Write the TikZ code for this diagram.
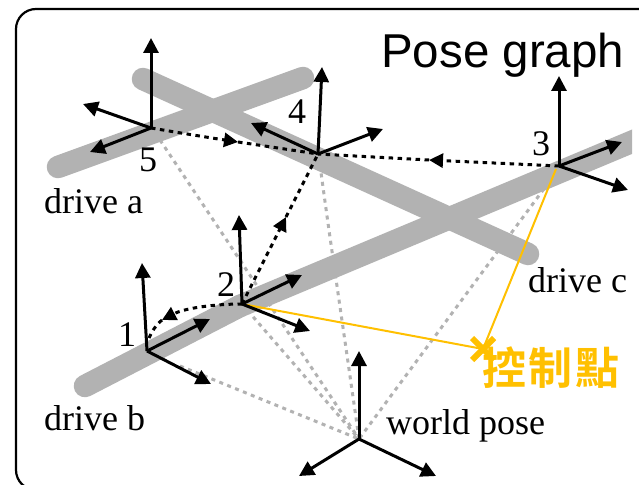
\documentclass[tikz,border=0pt]{standalone}
\usepackage{fontspec}
\setmainfont{Liberation Serif}
\newfontfamily\titlefont{Liberation Sans}
\newfontfamily\cjkfont{Noto Sans CJK TC}[BoldFont={* Bold}]
\usetikzlibrary{arrows.meta}
\definecolor{roadgray}{HTML}{B2B2B2}
\definecolor{ctrlyellow}{HTML}{FFC000}
\tikzset{
  road/.style={draw=roadgray,line width=22.5pt,line cap=round},
  axis/.style={draw=black,line width=3pt,-{Triangle[length=15pt,width=15pt]}},
  edgeline/.style={draw=black,line width=3pt,dash pattern=on 4.5pt off 4.5pt},
  edgetip/.style={edgeline,-{Triangle[length=14pt,width=14pt]}},
  prior/.style={draw=roadgray,line width=3pt,dash pattern=on 4pt off 4.5pt},
  ctrl/.style={draw=ctrlyellow,line width=2pt},
  lbl/.style={anchor=base west,inner sep=0pt,font=\fontsize{36}{40}\selectfont},
  num/.style={anchor=base,inner sep=0pt,font=\fontsize{36}{40}\selectfont},
}
\begin{document}
\begin{tikzpicture}[x=1pt,y=-1pt]
\useasboundingbox (0,0) rectangle (639,484);
\fill[white] (0,0) rectangle (639,484);
\clip (0,0) rectangle (639,484);
\draw[black,line width=2.2pt,rounded corners=20pt] (660,9) -- (16,9) -- (16,490) -- (660,490);
% pose origins
\coordinate (p1) at (147,351);
\coordinate (p2) at (242,304);
\coordinate (p3) at (559,166);
\coordinate (p4) at (318,154);
\coordinate (p5) at (151,128);
\coordinate (w) at (359,439);
% roads
\coordinate (ra1) at (58,167); \coordinate (ra2) at (303,78);
\coordinate (rc1) at (143,79); \coordinate (rc2) at (528,254);
\coordinate (rb1) at (85,386); \coordinate (rb2) at (240,306); \coordinate (rb3) at (660,130);
\draw[road] (ra1) -- (ra2);
\draw[road] (rc1) -- (rc2);
\begin{scope}
\clip (0,0) rectangle (632,484);
\draw[road] (rb2) -- (rb3);
\end{scope}
\draw[road] (rb1) -- (rb2);
% prior edges
\coordinate (g5) at (160,140);
\coordinate (g4) at (320,165);
\coordinate (g3) at (549,182);
\coordinate (g1) at (180,366);
\draw[prior] (g5) -- (w);
\draw[prior] (g4) .. controls (330,240) and (345,340) .. (w);
\draw[prior] (g3) -- (w);
\draw[prior] (p2) -- (w);
\draw[prior] (g1) -- (w);
% yellow control lines
\coordinate (cp) at (483,349);
\coordinate (cpa) at (472,338); \coordinate (cpb) at (494,360);
\coordinate (cpc) at (494,338); \coordinate (cpd) at (472,360);
\coordinate (y3) at (556,169);
\draw[ctrl] (p2) -- (cp);
\draw[ctrl] (y3) -- (cp);
\draw[draw=ctrlyellow,line width=6pt] (cpa) -- (cpb);
\draw[draw=ctrlyellow,line width=6pt] (cpc) -- (cpd);
% pose edges
\coordinate (m54) at (238,142);
\coordinate (m34) at (429,160);
\coordinate (m24) at (286,217);
\coordinate (m21) at (162,320);
\draw[edgetip] (p5) .. controls (175,132) and (205,137) .. (m54);
\draw[edgeline] (m54) -- (p4);
\draw[edgetip] (p3) -- (m34);
\draw[edgeline] (m34) -- (p4);
\draw[edgetip] (p2) -- (m24);
\draw[edgeline] (m24) -- (p4);
\draw[edgetip] (p2) .. controls (215,304) and (185,308) .. (m21);
\coordinate (e1) at (149,338);
\draw[edgeline] (m21) .. controls (156,325) and (152,331) .. (e1);
% axes
\coordinate (a1) at (142,263); \coordinate (b1) at (210,319); \coordinate (c1) at (211,384);
\coordinate (a2) at (239,215); \coordinate (b2) at (302,275); \coordinate (c2) at (310,331);
\coordinate (a3) at (559,76);  \coordinate (b3) at (622,142); \coordinate (c3) at (628,190);
\coordinate (a4) at (322,67);  \coordinate (b4) at (251,123); \coordinate (c4) at (383,129);
\coordinate (a5) at (151,38);  \coordinate (b5) at (83,104);  \coordinate (c5) at (90,152);
\coordinate (aw) at (359,351); \coordinate (bw) at (436,476); \coordinate (cw) at (299,476);
\foreach \o/\a/\b/\c in {p1/a1/b1/c1,p2/a2/b2/c2,p3/a3/b3/c3,p4/a4/b4/c4,p5/a5/b5/c5,w/aw/bw/cw}{
  \draw[axis] (\o) -- (\a);
  \draw[axis] (\o) -- (\b);
  \draw[axis] (\o) -- (\c);
}
% labels
\node[lbl] (tt) at (381,68) {\titlefont\fontsize{47.5}{50}\selectfont Pose graph};
\node[lbl] (da) at (44,213) {drive a};
\node[lbl] (db) at (44,430) {drive b};
\node[lbl] (dc) at (528,292) {drive c};
\node[lbl] (wp) at (386,434) {world pose};
\node[num] (n1) at (127,346) {1};
\node[num] (n2) at (226,296) {2};
\node[num] (n3) at (541,155) {3};
\node[num] (n4) at (297,124) {4};
\node[num] (n5) at (148,171) {5};
\node[inner sep=0pt,text=ctrlyellow,font=\cjkfont\bfseries\fontsize{44}{46}\selectfont] (ck) at (551,368) {控\kern3pt制\kern3pt點};
\end{tikzpicture}
\end{document}
